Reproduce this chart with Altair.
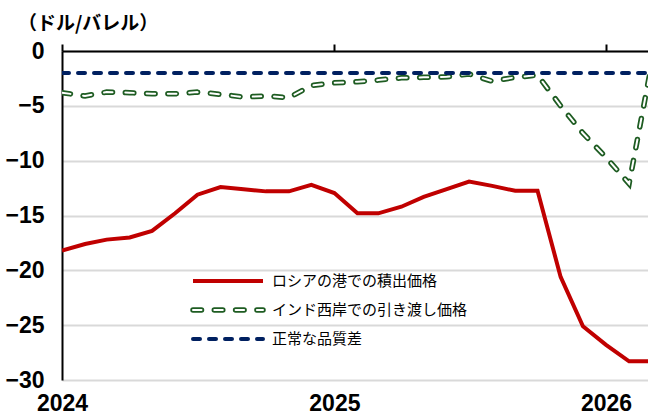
import altair as alt
import pandas as pd

# ---------------- data ----------------
months = [
    "2024-01", "2024-02", "2024-03", "2024-04", "2024-05", "2024-06",
    "2024-07", "2024-08", "2024-09", "2024-10", "2024-11", "2024-12",
    "2025-01", "2025-02", "2025-03", "2025-04", "2025-05", "2025-06",
    "2025-07", "2025-08", "2025-09", "2025-10", "2025-11", "2025-12",
    "2026-01", "2026-02", "2026-03",
]
russia_port = [
    -18.2, -17.6, -17.2, -17.0, -16.4, -14.8,
    -13.1, -12.4, -12.6, -12.8, -12.8, -12.2,
    -12.95, -14.8, -14.8, -14.2, -13.3, -12.6,
    -11.9, -12.3, -12.75, -12.75, -20.6, -25.1,
    -26.8, -28.3, -28.3,
]
india_west = [
    -3.8, -4.1, -3.75, -3.8, -3.9, -3.9,
    -3.75, -3.95, -4.2, -4.1, -4.25, -3.15,
    -2.9, -2.8, -2.65, -2.45, -2.4, -2.35,
    -2.1, -2.75, -2.4, -2.2, -5.0, -7.5,
    -9.7, -12.1, -2.0,
]
normal_diff = [
    -2.0, -2.0, -2.0, -2.0, -2.0, -2.0,
    -2.0, -2.0, -2.0, -2.0, -2.0, -2.0,
    -2.0, -2.0, -2.0, -2.0, -2.0, -2.0,
    -2.0, -2.0, -2.0, -2.0, -2.0, -2.0,
    -2.0, -2.0, -2.0,
]
series_names = ["ロシアの港での積出価格", "インド西岸での引き渡し価格", "正常な品質差"]
unit_title = "（ドル/バレル）"
y_ticks = [0, -5, -10, -15, -20, -25, -30]
year_ticks = [2024, 2025, 2026]

# ---------------- styles ----------------
RED = "#c00000"
GREEN = "#1e5c22"
NAVY = "#002060"
GRID = "#d9d9d9"
NUM_FONT = "Liberation Sans"
NUM_SIZE = 23
JP_FONT = "Noto Sans CJK JP"
GREEN_DASH = [8.5, 12.8]
NAVY_DASH = [7, 9]

W, H = 586, 329

df = pd.DataFrame({
    "date": [m + "-01T00:00:00Z" for m in months],
    "russia": russia_port,
    "india": india_west,
    "normal": normal_diff,
})

year_vals = [alt.DateTime(year=y, month=1, date=1, utc=True) for y in year_ticks]
xscale = alt.Scale(
    type="utc",
    domain=[alt.DateTime(year=2024, month=1, date=1, utc=True),
            alt.DateTime(year=2026, month=2, date=26, hours=10, utc=True)],
)
yscale = alt.Scale(domain=[-30, 0], nice=False, zero=False)

bottom_axis = alt.Axis(
    orient="bottom", values=year_vals, format="%Y", formatType="utc",
    labelFont=NUM_FONT, labelFontSize=NUM_SIZE, labelFontWeight="bold", labelColor="black",
    labelPadding=12, labelFlush=False, labelOverlap=False,
    domain=False, ticks=False, grid=False, title=None,
)
top_axis = alt.Axis(
    orient="top", values=year_vals, labels=False,
    domain=True, domainColor="black", domainWidth=2,
    ticks=True, tickColor="black", tickWidth=2, tickSize=7,
    grid=False, title=None,
)
y_axis = alt.Axis(
    values=y_ticks, labelFont=NUM_FONT, labelFontSize=NUM_SIZE, labelFontWeight="bold",
    labelColor="black", labelPadding=18, ticks=False, labelFlush=False,
    domain=True, domainColor="black", domainWidth=2,
    grid=True, gridColor=GRID, gridWidth=2, title=None,
)

base = alt.Chart(df)

red = base.mark_line(color=RED, strokeWidth=4, clip=True).encode(
    x=alt.X("date:T", scale=xscale, axis=bottom_axis),
    y=alt.Y("russia:Q", scale=yscale, axis=y_axis),
)
green_outer = base.mark_line(
    color=GREEN, strokeWidth=5.5, strokeDash=GREEN_DASH, strokeCap="round", clip=True
).encode(
    x=alt.X("date:T", scale=xscale, axis=None),
    y=alt.Y("india:Q", scale=yscale, axis=None),
)
green_inner = base.mark_line(
    color="white", strokeWidth=2, strokeDash=GREEN_DASH, strokeCap="round", clip=True
).encode(
    x=alt.X("date:T", scale=xscale, axis=None),
    y=alt.Y("india:Q", scale=yscale, axis=None),
)
navy = base.mark_line(
    color=NAVY, strokeWidth=4, strokeDash=NAVY_DASH, strokeCap="round", clip=True
).encode(
    x=alt.X("date:T", scale=xscale, axis=top_axis),
    y=alt.Y("normal:Q", scale=yscale, axis=None),
)

# ---------------- manual legend ----------------
LEG_X0, LEG_X1, LEG_TX = 131, 201, 210
LEG_Y = [230, 259, 288]
one = pd.DataFrame({"k": [0]})


def sym(y, **kw):
    return alt.Chart(one).mark_rule(**kw).encode(
        x=alt.value(LEG_X0), x2=alt.value(LEG_X1), y=alt.value(y)
    )


legend_layers = [
    sym(LEG_Y[0], color=RED, strokeWidth=4),
    sym(LEG_Y[1], color=GREEN, strokeWidth=5.5, strokeDash=GREEN_DASH, strokeCap="round"),
    sym(LEG_Y[1], color="white", strokeWidth=2, strokeDash=GREEN_DASH, strokeCap="round"),
    sym(LEG_Y[2], color=NAVY, strokeWidth=4, strokeDash=NAVY_DASH, strokeCap="round"),
]
for name, y in zip(series_names, LEG_Y):
    legend_layers.append(
        alt.Chart(pd.DataFrame({"label": [name]})).mark_text(
            align="left", baseline="middle", font=JP_FONT, fontSize=15, color="black"
        ).encode(x=alt.value(LEG_TX), y=alt.value(y), text="label:N")
    )

title_layer = alt.Chart(pd.DataFrame({"t": [unit_title]})).mark_text(
    align="left", baseline="middle", font=JP_FONT, fontSize=19, fontWeight="bold",
    color="black",
).encode(x=alt.value(-44), y=alt.value(-27), text="t:N")

chart = alt.layer(
    red, green_outer, green_inner, navy, *legend_layers, title_layer
).resolve_axis(x="independent", y="independent").properties(
    width=W, height=H,
    padding={"left": 62, "top": 51, "right": 0, "bottom": 38},
    autosize=alt.AutoSizeParams(type="none"),
).configure_view(stroke=None)

chart.save("out.html", embed_options={"renderer": "svg", "actions": False})
